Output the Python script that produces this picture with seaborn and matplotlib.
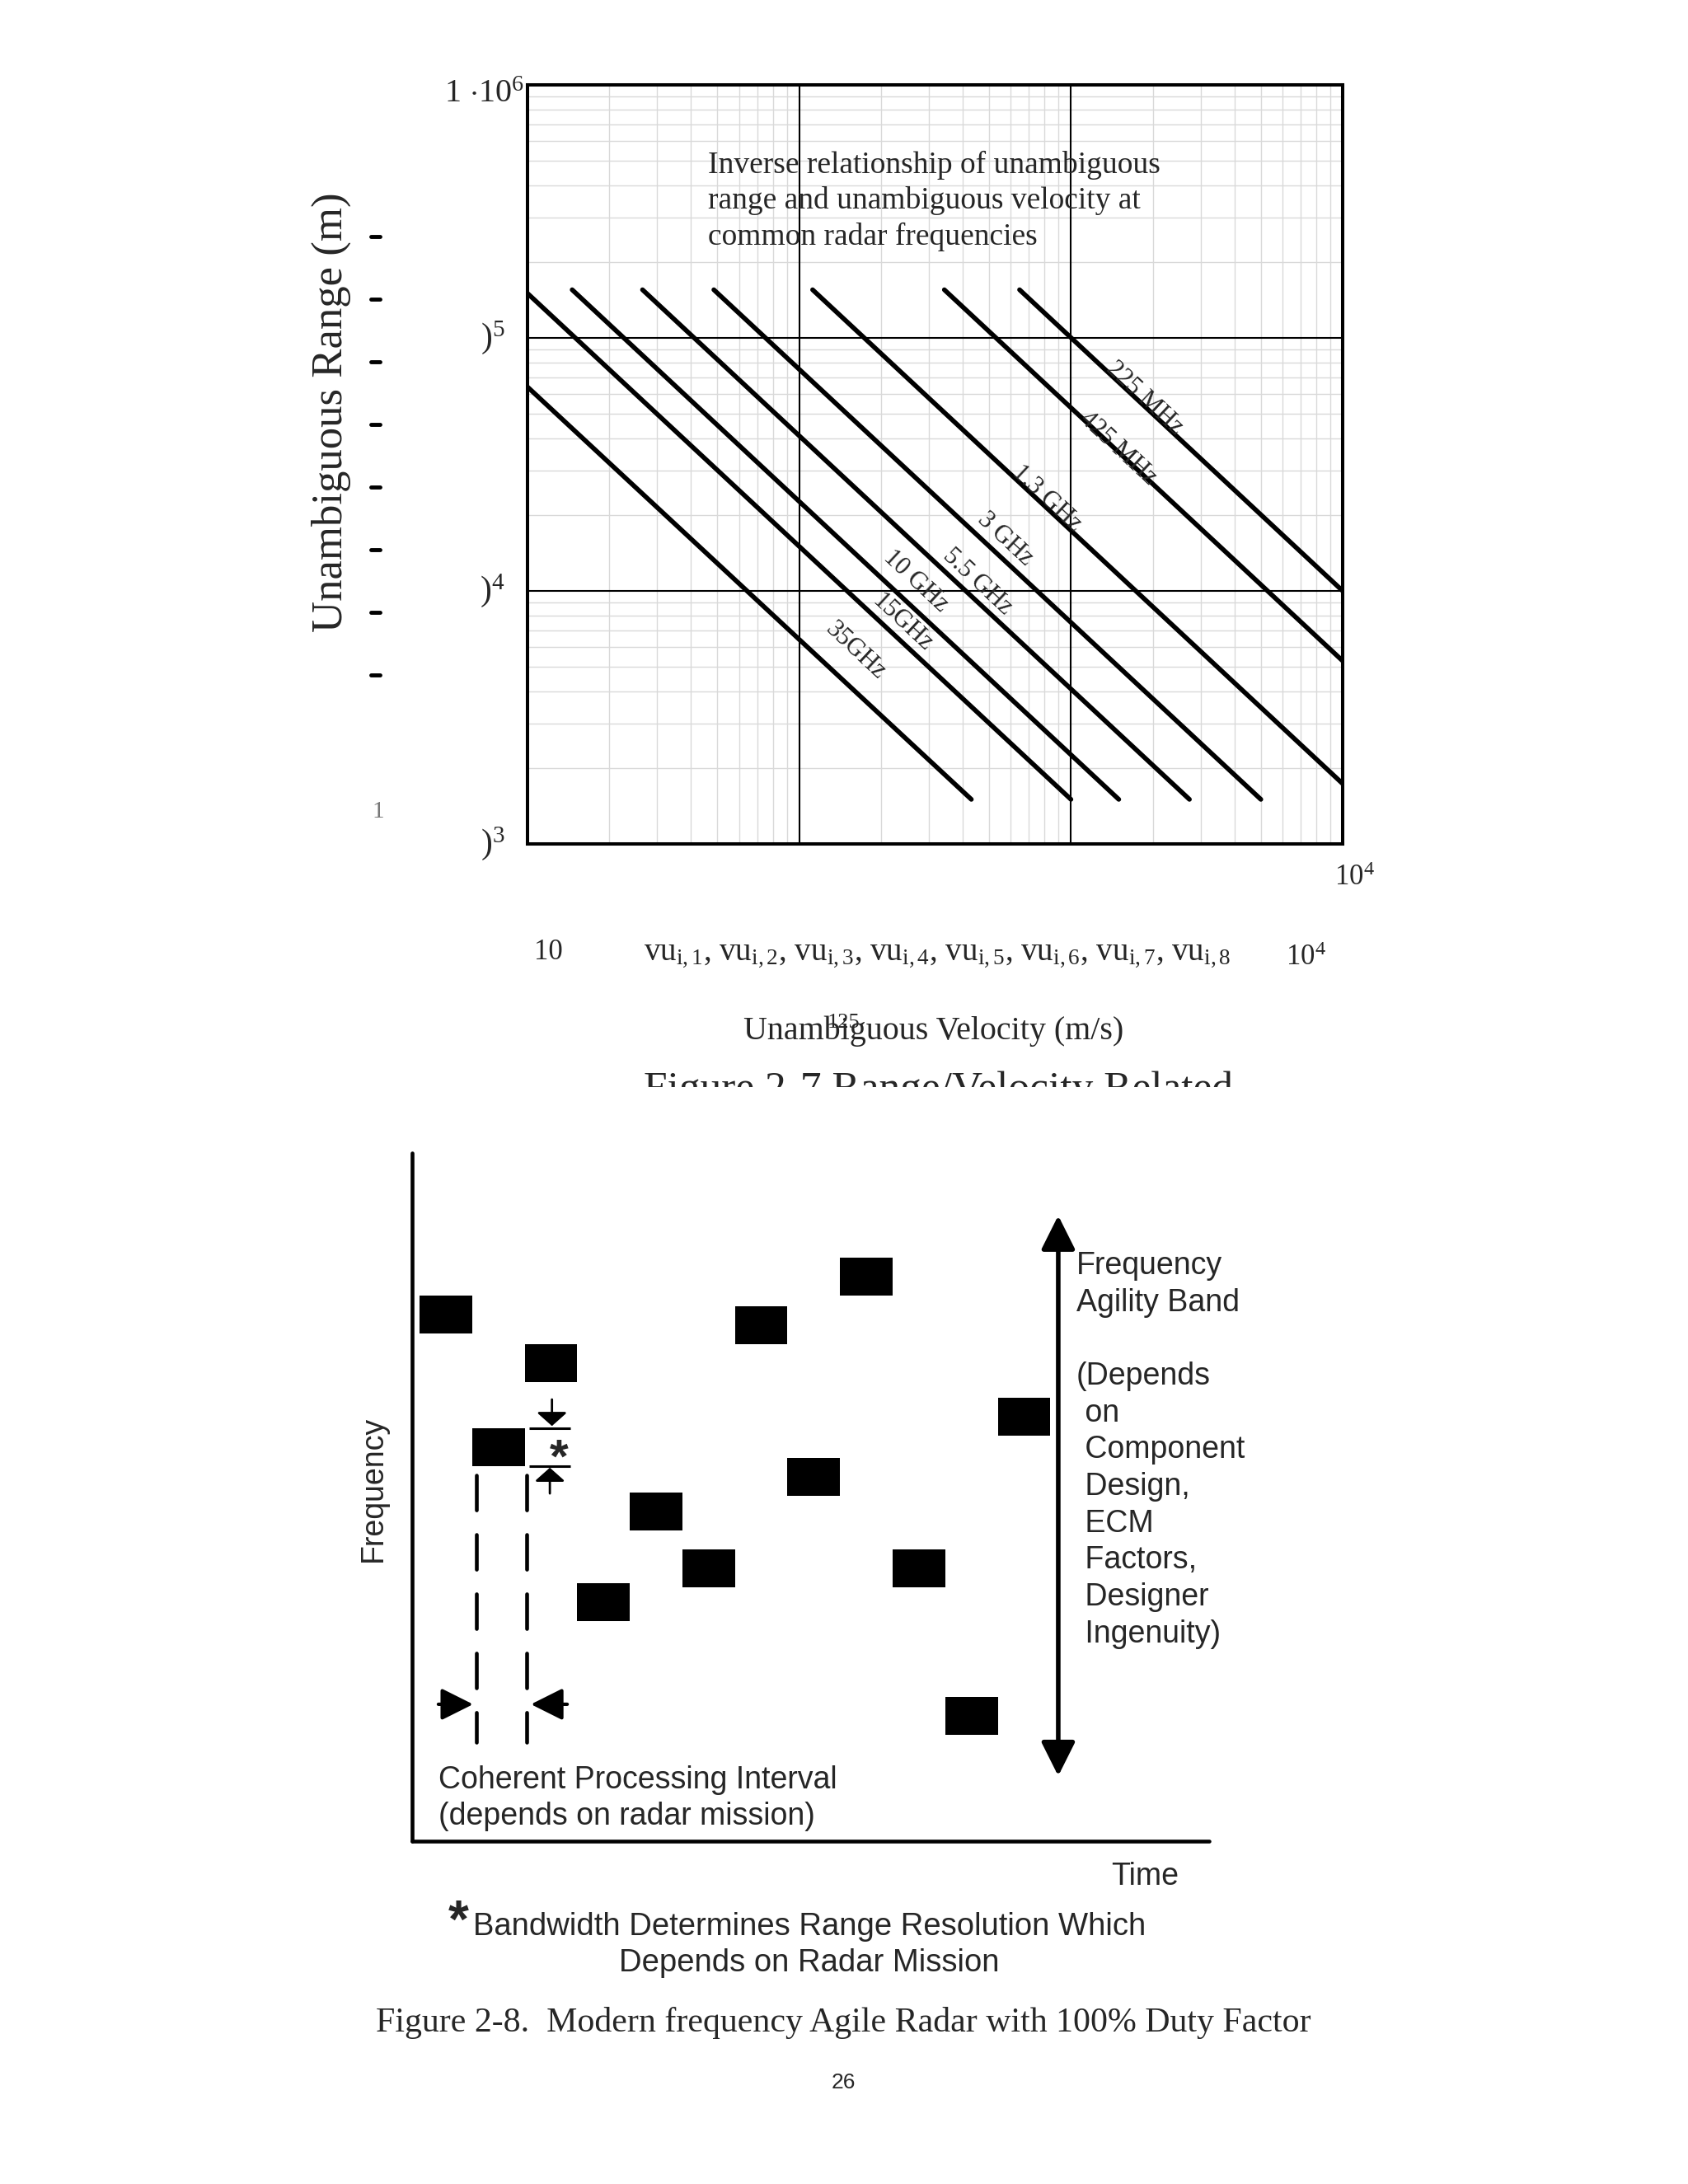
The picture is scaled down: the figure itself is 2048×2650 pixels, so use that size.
import numpy as np
import pandas as pd
import matplotlib
matplotlib.use("Agg")
import matplotlib.pyplot as plt
import seaborn as sns
from matplotlib.ticker import LogLocator, NullFormatter
from matplotlib.patches import Rectangle
from matplotlib.lines import Line2D

# ---------------- data ----------------
# Figure 2-7: range / velocity lines (start and end points)
bands = ["225 MHz", "425 MHz", "1.3 GHz", "3 GHz", "5.5 GHz", "10 GHz", "15GHz", "35GHz"]
v_start = [647, 342, 112, 48.5, 26.5, 14.6, 10, 10]
r_start = [1.55e5, 1.55e5, 1.55e5, 1.55e5, 1.55e5, 1.55e5, 1.5e5, 6.4e4]
v_end = [1e4, 1e4, 1e4, 5000, 2730, 1500, 1000, 430]
r_end = [1e4, 5290, 1730, 1500, 1500, 1500, 1500, 1500]
label_v = [1862, 1489, 817, 573, 452, 269, 239, 161]
label_r = [5.8e4, 3.66e4, 2.32e4, 1.6e4, 1.09e4, 1.09e4, 7.5e3, 5.8e3]
decade_v = [100, 1000]
decade_r = [1e4, 1e5]
ytick_vals = [1e5, 1e4, 1e3]
ytick_text = [r"$\mathregular{)^{5}}$", r"$\mathregular{)^{4}}$", r"$\mathregular{)^{3}}$"]

# Figure 2-8: frequency agile pulses (time slot, frequency in block units)
pulse_slot = list(range(12))
pulse_freq = [13.9, 10.4, 12.6, 6.3, 8.7, 7.2, 13.6, 9.6, 14.9, 7.2, 3.3, 11.2]

rows = []
for b, vs, rs, ve, re in zip(bands, v_start, r_start, v_end, r_end):
    rows.append((b, vs, rs))
    rows.append((b, ve, re))
lines_df = pd.DataFrame(rows, columns=["band", "velocity", "range"])

# ---------------- style ----------------
sns.set_style("white")
plt.rcParams["font.family"] = ["Liberation Serif", "DejaVu Serif"]
plt.rcParams["mathtext.fontset"] = "custom"
plt.rcParams["mathtext.rm"] = "Liberation Serif"
plt.rcParams["mathtext.it"] = "Liberation Serif:italic"
plt.rcParams["mathtext.bf"] = "Liberation Serif:bold"
SANS = ["Liberation Sans", "DejaVu Sans"]

W, H = 2048, 2650


def fx(px):
    return px / W


def fy(py):
    return 1 - py / H


fig = plt.figure(figsize=(20.48, 26.5), dpi=100)

# ==========================================
# FIGURE 2-7  range vs velocity
# ==========================================
ax1 = fig.add_axes([fx(640), fy(1024), (1629 - 640) / W, (1024 - 103) / H])
ax1.set_xscale("log")
ax1.set_yscale("log")

sns.lineplot(data=lines_df, x="velocity", y="range", units="band", estimator=None,
             sort=False, color="black", linewidth=4.1, solid_capstyle="round",
             legend=False, ax=ax1, zorder=3)

ax1.set_xlim(10, 1e4)
ax1.set_ylim(1e3, 1e6)
ax1.xaxis.set_minor_locator(LogLocator(base=10, subs=np.arange(2, 10)))
ax1.yaxis.set_minor_locator(LogLocator(base=10, subs=np.arange(2, 10)))
ax1.xaxis.set_minor_formatter(NullFormatter())
ax1.yaxis.set_minor_formatter(NullFormatter())
ax1.grid(which="minor", color="#d9d9d9", linewidth=1.0)
ax1.grid(which="major", visible=False)
for v in decade_v:
    ax1.axvline(v, color="black", lw=1.5, zorder=1.5)
for r in decade_r:
    ax1.axhline(r, color="black", lw=1.5, zorder=1.5)
ax1.set_axisbelow(True)
ax1.tick_params(which="both", length=0, labelbottom=False, labelleft=False)
ax1.set_xlabel("")
ax1.set_ylabel("")
for sp in ax1.spines.values():
    sp.set_visible(True)
    sp.set_color("black")
    sp.set_linewidth(2.9)

for lab, lv, lr in zip(bands, label_v, label_r):
    ax1.text(lv, lr, lab, rotation=-43, rotation_mode="anchor", ha="center",
             va="center", fontsize=22, zorder=4)

ax1.text(fx(859), fy(183), "Inverse relationship of unambiguous\nrange and unambiguous velocity at\ncommon radar frequencies",
         transform=fig.transFigure, ha="left", va="top", fontsize=27, linespacing=1.3, zorder=5)

# y tick labels (partly clipped in the original)
ytr = ax1.get_yaxis_transform()
for val, txt in zip(ytick_vals, ytick_text):
    ax1.text(-0.028, val, txt, transform=ytr, ha="right", va="center", fontsize=30)
fig.text(fx(636), fy(115), r"1 $\cdot$10$^{\mathregular{6}}$", ha="right", va="center", fontsize=29)

# column of marks left of the axis
for k in range(8):
    yy = fy(287 + 76 * k)
    fig.add_artist(Line2D([fx(450), fx(461)], [yy, yy], color="black", lw=3.5,
                          transform=fig.transFigure))
fig.text(fx(459), fy(985), "1", color="#777777", fontsize=21, ha="center", va="center")

fig.text(fx(402), fy(500), "Unambiguous Range (m)", rotation=90, ha="center", va="center", fontsize=38)

# x tick labels
vu = ", ".join(r"vu$_{\mathregular{i,%d}}$" % k for k in range(1, 9))
fig.text(fx(665), fy(1155), "10", ha="center", va="center", fontsize=25)
fig.text(fx(781), fy(1157), vu, ha="left", va="center", fontsize=28)
fig.text(fx(1584), fy(1163), r"10$^{\mathregular{4}}$", ha="center", va="center", fontsize=25)
fig.text(fx(1643), fy(1066), r"10$^{\mathregular{4}}$", ha="center", va="center", fontsize=25)
fig.text(fx(1133), fy(1251), "Unambiguous Velocity (m/s)", ha="center", va="center", fontsize=28.8)
fig.text(fx(1023), fy(1241), "125", ha="center", va="center", fontsize=19)

# caption of figure 2-7 cut off by the page
fig.text(fx(781), fy(1299), "Figure 2-7 Range/Velocity Related", ha="left", va="top", fontsize=37)
fig.add_artist(Rectangle((0, fy(1385)), 1, fy(1319) - fy(1385), transform=fig.transFigure,
                         facecolor="white", edgecolor="none", zorder=10))

# ==========================================
# FIGURE 2-8  frequency agile radar
# ==========================================
ax2 = fig.add_axes([fx(500), fy(2234), (1467 - 500) / W, (2234 - 1399) / H])
ax2.bar(pulse_slot, height=1.0, bottom=[f - 0.5 for f in pulse_freq], width=1.0,
        align="edge", color="black", linewidth=0)
ax2.set_xlim(-0.14, 15.02)
ax2.set_ylim(0, 18.15)
ax2.set_xticks([])
ax2.set_yticks([])
ax2.spines["top"].set_visible(False)
ax2.spines["right"].set_visible(False)
for s in ["left", "bottom"]:
    ax2.spines[s].set_linewidth(3.3)
    ax2.spines[s].set_color("black")
    ax2.spines[s].set_capstyle("round")

# coherent processing interval
for xx in [1.08, 2.04]:
    ax2.plot([xx, xx], [9.65, 2.61], color="black", lw=3.3,
             linestyle=(0, (9.2, 6.5)), dash_capstyle="round")
ax2.annotate("", xy=(1.02, 3.61), xytext=(0.36, 3.61),
             arrowprops=dict(arrowstyle="-|>", mutation_scale=59, lw=3, color="black",
                             shrinkA=0, shrinkB=0))
ax2.annotate("", xy=(2.12, 3.61), xytext=(2.81, 3.61),
             arrowprops=dict(arrowstyle="-|>", mutation_scale=59, lw=3, color="black",
                             shrinkA=0, shrinkB=0))

# bandwidth marker
ax2.hlines([10.9, 9.9], 2.08, 2.87, color="black", lw=2.2)
ax2.annotate("", xy=(2.52, 10.95), xytext=(2.52, 11.65),
             arrowprops=dict(arrowstyle="-|>,head_length=0.4,head_width=0.45", mutation_scale=25,
                             lw=2, color="black", shrinkA=0, shrinkB=0))
ax2.annotate("", xy=(2.48, 9.85), xytext=(2.48, 9.17),
             arrowprops=dict(arrowstyle="-|>,head_length=0.4,head_width=0.45", mutation_scale=25,
                             lw=2, color="black", shrinkA=0, shrinkB=0))
ax2.text(2.66, 10.05, "*", family=SANS, fontsize=42, fontweight="bold", ha="center", va="center")

# agility band arrow
ax2.annotate("", xy=(12.15, 16.5), xytext=(12.15, 1.72),
             arrowprops=dict(arrowstyle="<|-|>", mutation_scale=63, lw=4, color="black",
                             shrinkA=0, shrinkB=0))

fig.text(fx(1306), fy(1518),
         "Frequency\nAgility Band\n\n(Depends\n on\n Component\n Design,\n ECM\n Factors,\n Designer\n Ingenuity)",
         family=SANS, ha="left", va="top", fontsize=27, linespacing=1.31)
fig.text(fx(532), fy(2182), "Coherent Processing Interval\n(depends on radar mission)",
         family=SANS, ha="left", va="center", fontsize=27, linespacing=1.3)
fig.text(fx(453), fy(1806), "Frequency", family=SANS, rotation=90, ha="center", va="center", fontsize=27)
fig.text(fx(1389), fy(2277), "Time", family=SANS, ha="center", va="center", fontsize=27)
fig.text(fx(556), fy(2334), "*", family=SANS, fontweight="bold", ha="center", va="center", fontsize=46)
fig.text(fx(982), fy(2360), "Bandwidth Determines Range Resolution Which\nDepends on Radar Mission",
         family=SANS, ha="center", va="center", multialignment="center", fontsize=27.5, linespacing=1.3)

fig.text(fx(1023), fy(2455), "Figure 2-8.  Modern frequency Agile Radar with 100% Duty Factor",
         ha="center", va="center", fontsize=30.2)
fig.text(fx(1023), fy(2527), "26", family=SANS, ha="center", va="center", fontsize=19)

fig.savefig("out.png", dpi=100)
